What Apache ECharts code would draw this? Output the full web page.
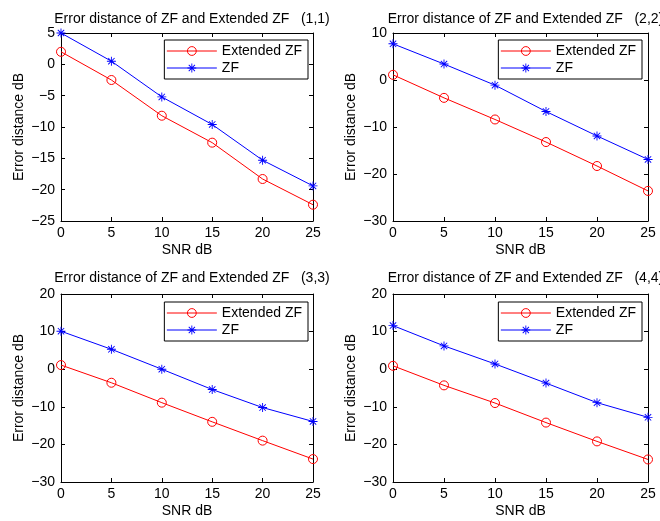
<!DOCTYPE html>
<html>
<head>
<meta charset="utf-8">
<script src="https://cdn.jsdelivr.net/npm/echarts@6/dist/echarts.min.js"></script>
<style>
html,body{margin:0;padding:0;background:#fff;}
#chart{width:660px;height:521px;}
</style>
</head>
<body>
<div id="chart"></div>
<script>
const snr = [0, 5, 10, 15, 20, 25];
const extZF1 = [2.0, -2.5, -8.2, -12.5, -18.3, -22.4];
const zf1 = [5.0, 0.5, -5.2, -9.6, -15.3, -19.4];
const extZF2 = [1.1, -3.8, -8.4, -13.2, -18.3, -23.6];
const zf2 = [7.7, 3.4, -1.1, -6.7, -11.9, -16.9];
const extZF3 = [1.1, -3.6, -8.9, -14.0, -19.0, -23.9];
const zf3 = [10.1, 5.3, 0.0, -5.4, -10.2, -13.9];
const extZF4 = [0.9, -4.3, -9.0, -14.2, -19.2, -24.0];
const zf4 = [11.6, 6.2, 1.4, -3.7, -8.9, -12.8];
const xTicks = [0, 25, 5];
const yMin = [-25, -30, -30, -30];
const yMax = [5, 10, 20, 20];
const yStep = [5, 10, 10, 10];
const panelTags = ["(1,1)", "(2,2)", "(3,3)", "(4,4)"];
const titleText = "Error distance of ZF and Extended ZF";
const seriesNames = ["Extended ZF", "ZF"];
const xName = "SNR dB";
const yName = "Error distance dB";

const extSets = [extZF1, extZF2, extZF3, extZF4];
const zfSets = [zf1, zf2, zf3, zf4];

const FONT = "'Liberation Sans', Arial, Helvetica, sans-serif";
const grids = [
  {left: 61, top: 33, width: 252, height: 188},
  {left: 393, top: 33, width: 255, height: 188},
  {left: 61, top: 294, width: 252, height: 188},
  {left: 393, top: 294, width: 255, height: 188}
];
const legendPos = [
  {right: 352, top: 40},
  {right: 18, top: 40},
  {right: 352, top: 302},
  {right: 18, top: 302}
];
const starPath = 'path://M4.5,0 L5.5,0 L5.5,10 L4.5,10 Z M0,4.5 L10,4.5 L10,5.5 L0,5.5 Z M1.81,1.1 L8.9,8.19 L8.19,8.9 L1.1,1.81 Z M8.19,1.1 L8.9,1.81 L1.81,8.9 L1.1,8.19 Z';

const fmt = v => String(v).replace('-', '\u2212');
const lineAx = {onZero: false, lineStyle: {color: '#000', width: 1}};
const tickIn = {inside: true, length: 4, lineStyle: {color: '#000', width: 1}};
const labStyle = {color: '#000', fontSize: 14, fontFamily: FONT};

const option = {
  backgroundColor: '#fff',
  animation: false,
  title: [], grid: [], xAxis: [], yAxis: [], legend: [], series: []
};

for (let i = 0; i < 4; i++) {
  const g = grids[i];
  option.grid.push(Object.assign({containLabel: false, show: false}, g));
  option.title.push({
    text: titleText + '   ' + panelTags[i],
    left: g.left + g.width / 2,
    top: i < 2 ? 7 : 266,
    textAlign: 'center',
    textStyle: {fontSize: 14, fontWeight: 'normal', color: '#000', fontFamily: FONT}
  });
  option.xAxis.push({
    type: 'value', gridIndex: i, position: 'bottom',
    min: xTicks[0], max: xTicks[1], interval: xTicks[2],
    axisLine: lineAx, axisTick: tickIn, splitLine: {show: false},
    axisLabel: Object.assign({margin: 5, formatter: fmt}, labStyle),
    name: xName, nameLocation: 'middle', nameGap: 22,
    nameTextStyle: labStyle
  });
  option.xAxis.push({
    type: 'value', gridIndex: i, position: 'top',
    min: xTicks[0], max: xTicks[1], interval: xTicks[2],
    axisLine: lineAx, axisTick: tickIn, splitLine: {show: false},
    axisLabel: {show: false}
  });
  option.yAxis.push({
    type: 'value', gridIndex: i, position: 'left',
    min: yMin[i], max: yMax[i], interval: yStep[i],
    axisLine: lineAx, axisTick: tickIn, splitLine: {show: false},
    axisLabel: Object.assign({margin: 6, formatter: fmt}, labStyle),
    name: yName, nameLocation: 'middle', nameGap: 35,
    nameTextStyle: labStyle
  });
  option.yAxis.push({
    type: 'value', gridIndex: i, position: 'right',
    min: yMin[i], max: yMax[i], interval: yStep[i],
    axisLine: lineAx, axisTick: tickIn, splitLine: {show: false},
    axisLabel: {show: false}
  });
  option.legend.push({
    orient: 'vertical',
    right: legendPos[i].right, top: legendPos[i].top,
    data: seriesNames,
    itemWidth: 50, itemHeight: 11, itemGap: 3,
    padding: [4, 6, 4, 2],
    borderColor: '#000', borderWidth: 1, backgroundColor: '#fff',
    selectedMode: false,
    lineStyle: {width: 1},
    itemStyle: {borderWidth: 1},
    textStyle: {color: '#000', fontSize: 14, fontFamily: FONT}
  });
  option.series.push({
    name: seriesNames[0], type: 'line',
    xAxisIndex: 2 * i, yAxisIndex: 2 * i,
    data: snr.map((x, k) => [x, extSets[i][k]]),
    symbol: 'circle', symbolSize: 9, clip: false,
    itemStyle: {color: 'rgba(255,255,255,0)', borderColor: '#ff0000', borderWidth: 1},
    lineStyle: {color: '#ff0000', width: 1},
    emphasis: {disabled: true}
  });
  option.series.push({
    name: seriesNames[1], type: 'line',
    xAxisIndex: 2 * i, yAxisIndex: 2 * i,
    data: snr.map((x, k) => [x, zfSets[i][k]]),
    symbol: starPath, symbolSize: 9, clip: false,
    itemStyle: {color: '#0000ff'},
    lineStyle: {color: '#0000ff', width: 1},
    emphasis: {disabled: true}
  });
}

const chart = echarts.init(document.getElementById('chart'), null, {renderer: 'canvas'});
chart.setOption(option);
</script>
</body>
</html>
